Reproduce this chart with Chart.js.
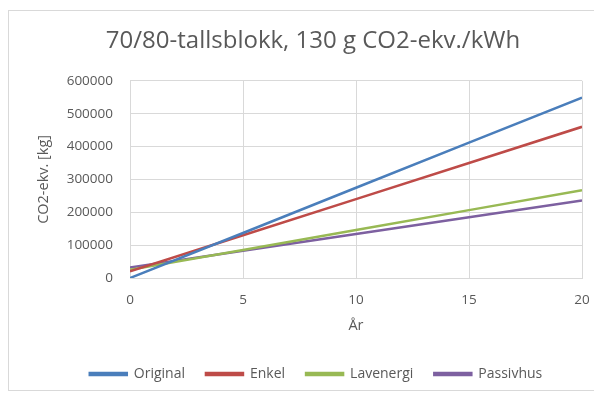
<!DOCTYPE html>
<html>
<head>
<meta charset="utf-8">
<script src="https://cdn.jsdelivr.net/npm/chart.js@4/dist/chart.umd.min.js"></script>
<style>
  html, body { margin: 0; padding: 0; background: #fff; }
  #wrap { width: 594px; height: 400px; }
</style>
</head>
<body>
<div id="wrap"><canvas id="c" width="594" height="400"></canvas></div>
<script>
// Years after renovation
const years = [0, 5, 10, 15, 20];
// Accumulated emissions, kg CO2-eq.
const original  = [0, 137000, 274500, 412000, 549000];
const enkel     = [20000, 130000, 240000, 350000, 460000];
const lavenergi = [25000, 85500, 146000, 206500, 267000];
const passivhus = [32000, 83000, 134000, 185000, 236000];

const seriesNames = ['Original', 'Enkel', 'Lavenergi', 'Passivhus'];
const seriesColors = ['#4a7ebb', '#be4b48', '#98b954', '#7d60a0'];
const yTicks = [0, 100000, 200000, 300000, 400000, 500000, 600000];
const xTicks = [0, 5, 10, 15, 20];

const FONT = "'Open Sans', 'Liberation Sans', sans-serif";
const TXT = '#595959';
const GRID = '#d9d9d9';

function points(vals) {
  return years.map((x, i) => ({ x: x, y: vals[i] }));
}

const allSeries = [original, enkel, lavenergi, passivhus];
const datasets = allSeries.map((vals, i) => ({
  label: seriesNames[i],
  data: points(vals),
  borderColor: seriesColors[i],
  backgroundColor: seriesColors[i],
  borderWidth: 2.5,
  pointRadius: 0,
  tension: 0,
  fill: false
}));

// Thin frame around the whole chart; title and legend centred on the frame
const frame = {
  id: 'frame',
  afterLayout(chart) {
    const shiftTitle = 12, shiftLegend = 15;
    if (chart.titleBlock) { chart.titleBlock.left += shiftTitle; chart.titleBlock.right += shiftTitle; }
    if (chart.legend) { chart.legend.left += shiftLegend; chart.legend.right += shiftLegend; }
  },
  afterDraw(chart) {
    const ctx = chart.ctx;
    ctx.save();
    ctx.strokeStyle = '#d9d9d9';
    ctx.lineWidth = 1;
    ctx.strokeRect(8.5, 10.5, chart.width - 8, chart.height - 20);
    ctx.restore();
  }
};

new Chart(document.getElementById('c'), {
  type: 'line',
  data: { datasets: datasets },
  plugins: [frame],
  options: {
    responsive: false,
    animation: false,
    layout: { padding: { left: 8, right: 0, top: 14, bottom: 9 } },
    plugins: {
      title: {
        display: true,
        text: '70/80-tallsblokk, 130 g CO2-ekv./kWh',
        color: TXT,
        font: { family: FONT, size: 24, weight: 'normal' },
        padding: { top: 13, bottom: 25 }
      },
      legend: {
        position: 'bottom',
        labels: {
          color: TXT,
          font: { family: FONT, size: 14 },
          boxWidth: 37,
          boxHeight: 2,
          padding: 21
        }
      },
      tooltip: { enabled: false }
    },
    scales: {
      x: {
        type: 'linear',
        min: 0,
        max: 20,
        afterBuildTicks(axis) { axis.ticks = xTicks.map(v => ({ value: v })); },
        afterFit(axis) { axis.height = 68; axis.paddingLeft = 0; axis.paddingRight = 12; },
        grid: { color: GRID, drawTicks: false },
        border: { color: GRID },
        ticks: { color: TXT, font: { family: FONT, size: 13.5 }, padding: 14 },
        title: { display: true, text: 'År', color: TXT, font: { family: FONT, size: 14.5 }, padding: { top: 6, bottom: 11 } }
      },
      y: {
        min: 0,
        max: 600000,
        afterBuildTicks(axis) { axis.ticks = yTicks.map(v => ({ value: v })); },
        afterFit(axis) { axis.width = 122; },
        grid: { color: GRID, drawTicks: false },
        border: { color: GRID },
        ticks: { color: TXT, font: { family: FONT, size: 13.5 }, padding: 17, callback: v => String(v) },
        title: { display: true, text: 'CO2-ekv. [kg]', color: TXT, font: { family: FONT, size: 14.5 }, padding: { top: 27, bottom: 4 } }
      }
    }
  }
});
</script>
</body>
</html>
